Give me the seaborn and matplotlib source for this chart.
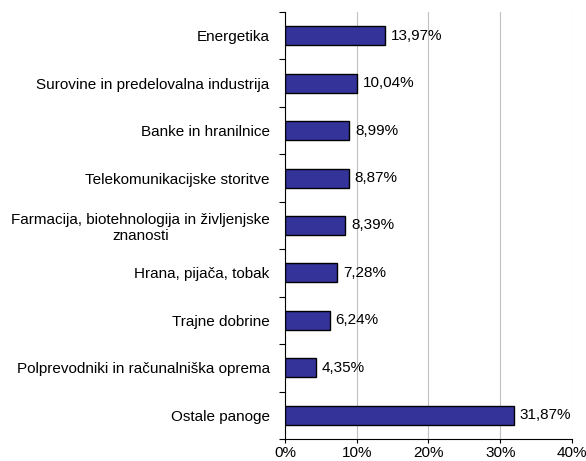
import pandas as pd
import seaborn as sns
import matplotlib.pyplot as plt
from matplotlib.ticker import FixedLocator, FuncFormatter

# data
sectors = ["Energetika",
           "Surovine in predelovalna industrija",
           "Banke in hranilnice",
           "Telekomunikacijske storitve",
           "Farmacija, biotehnologija in življenjske\nznanosti",
           "Hrana, pijača, tobak",
           "Trajne dobrine",
           "Polprevodniki in računalniška oprema",
           "Ostale panoge"]
shares = [13.97, 10.04, 8.99, 8.87, 8.39, 7.28, 6.24, 4.35, 31.87]

df = pd.DataFrame({"sector": sectors, "share": shares})

sns.set_style("white")
plt.rcParams['font.family'] = ['Liberation Sans', 'DejaVu Sans']
plt.rcParams['font.size'] = 11
plt.rcParams['text.color'] = 'black'
plt.rcParams['xtick.color'] = 'black'
plt.rcParams['ytick.color'] = 'black'

fig = plt.figure(figsize=(5.86, 4.61), dpi=100)
ax = fig.add_axes([0.4863, 0.0477, 0.4898, 0.9263])

sns.barplot(data=df, x="share", y="sector", color="#333399", saturation=1,
            width=0.4, edgecolor="black", linewidth=1, ax=ax)

# value labels right of each bar
for i, v in enumerate(shares):
    ax.text(v + 0.8, i, f"{v:.2f}".replace(".", ",") + "%", va="center",
            ha="left", fontsize=11, color="black")

ax.set_xlim(0, 40)
ax.set_ylim(len(sectors) - 0.5, -0.5)
ax.set_xticks([0, 10, 20, 30, 40])
ax.xaxis.set_major_formatter(FuncFormatter(lambda x, p: f"{x:.0f}%"))
ax.xaxis.grid(True, color="#c0c0c0", linewidth=0.8)
ax.set_axisbelow(True)

# category separators as ticks on the y axis
ax.yaxis.set_minor_locator(FixedLocator([i - 0.5 for i in range(len(sectors) + 1)]))
ax.tick_params(axis="y", which="major", length=0, pad=11, labelsize=11)
ax.tick_params(axis="y", which="minor", length=4, width=0.8, color="black", left=True)
ax.tick_params(axis="x", length=3, width=0.8, color="black", bottom=True,
               labelsize=11, pad=2)

for s in ["top", "right"]:
    ax.spines[s].set_visible(False)
for s in ["left", "bottom"]:
    ax.spines[s].set_color("black")
    ax.spines[s].set_linewidth(0.8)

ax.set_xlabel("")
ax.set_ylabel("")
for lbl in ax.get_yticklabels():
    lbl.set_multialignment("center")

fig.savefig("out.png", dpi=100)
